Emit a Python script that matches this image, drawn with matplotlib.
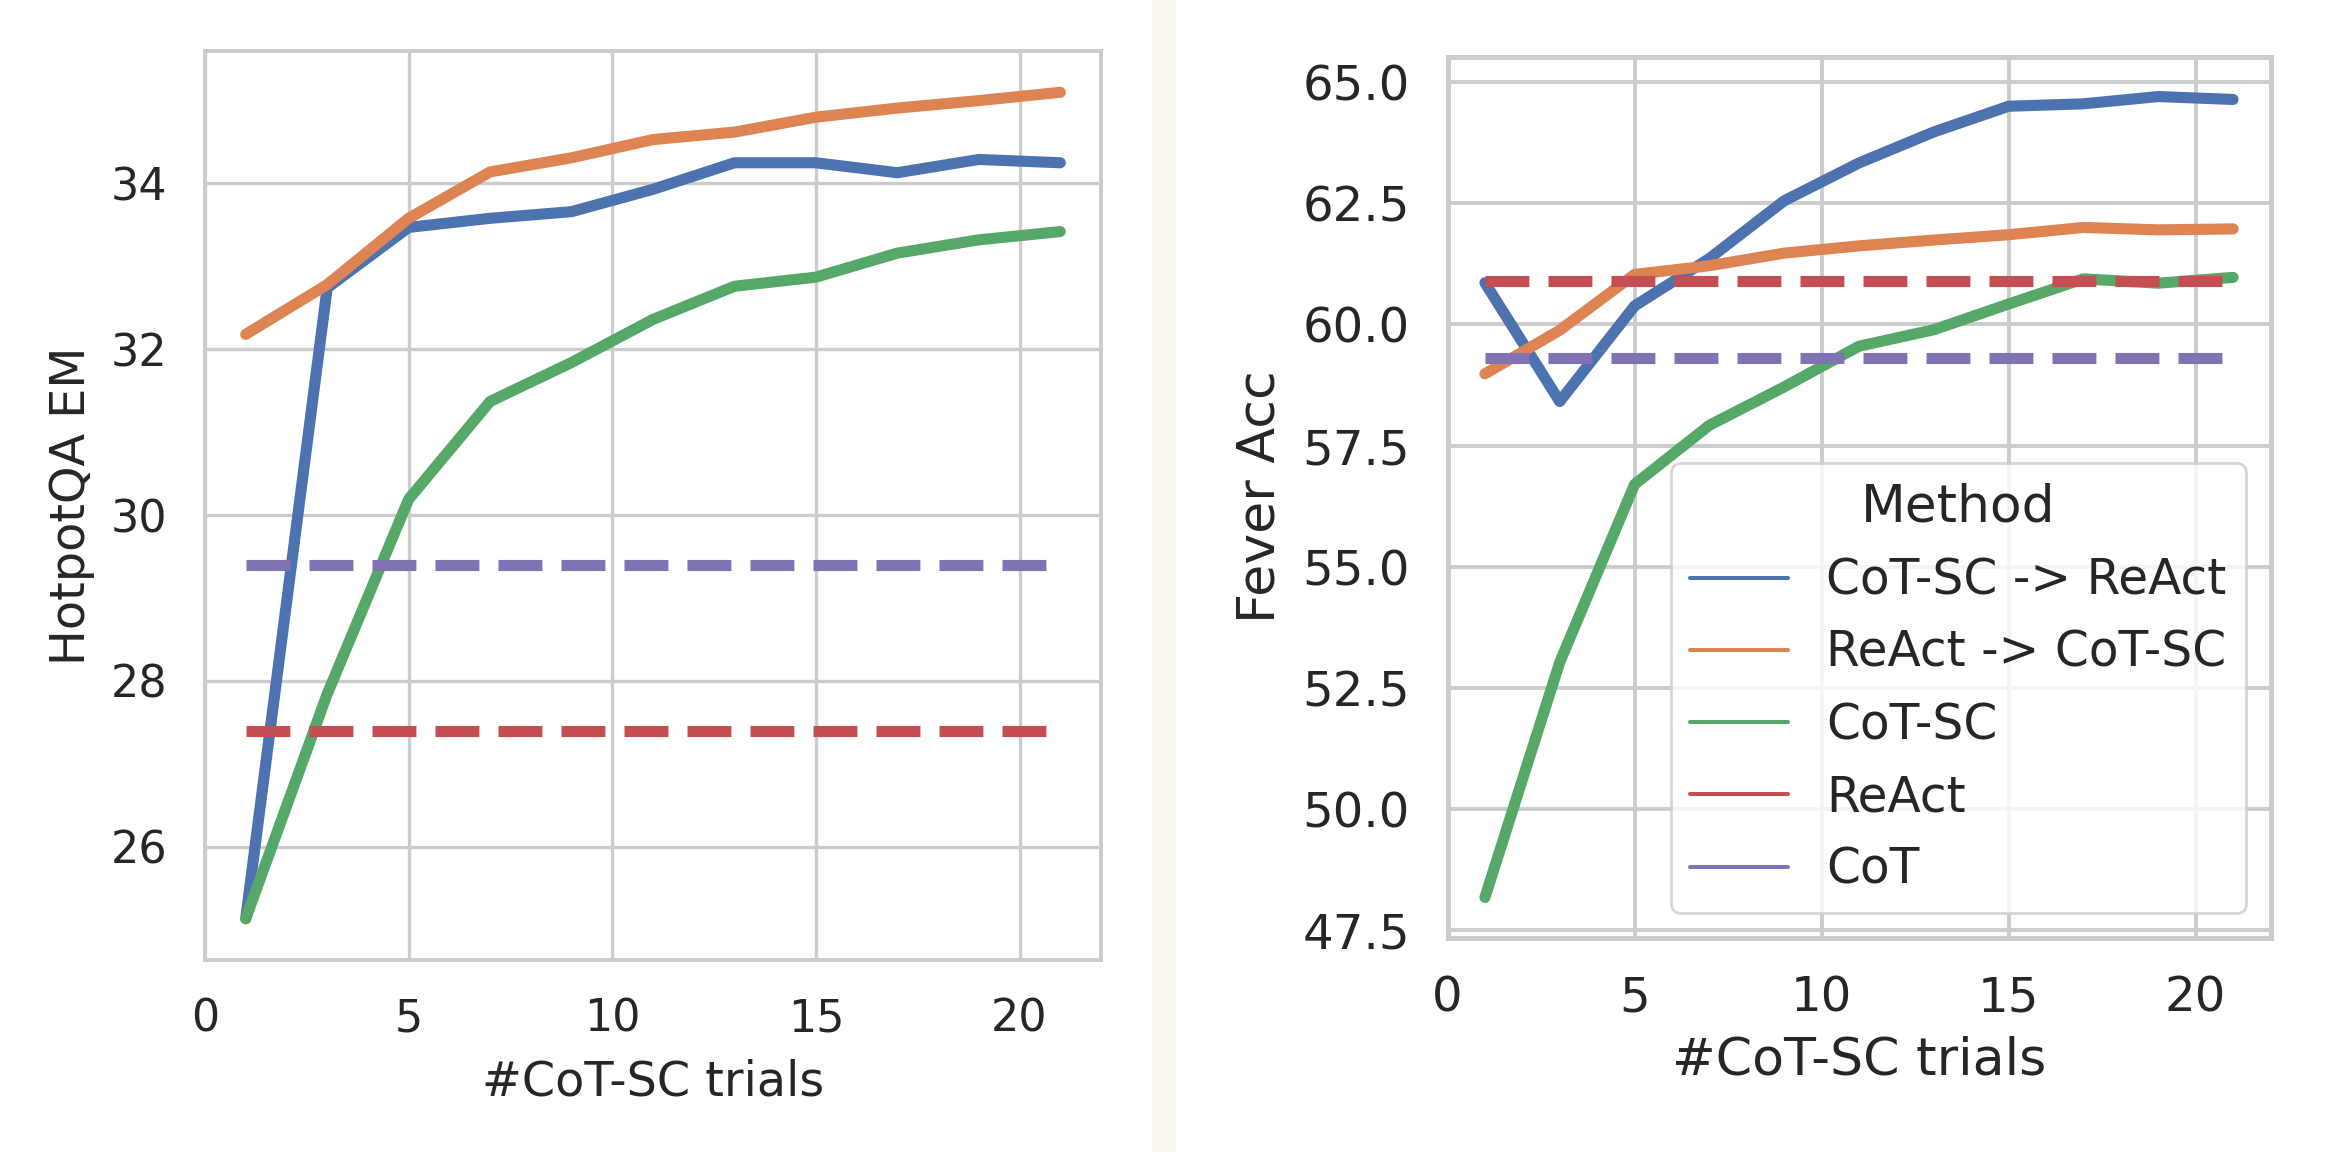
import matplotlib
matplotlib.use("Agg")
import matplotlib.pyplot as plt
from matplotlib.lines import Line2D
from matplotlib.patches import Rectangle
from matplotlib.ticker import MultipleLocator, FormatStrFormatter

# ---------------- data ----------------
trials = [1, 3, 5, 7, 9, 11, 13, 15, 17, 19, 21]

hotpot_cotsc_react = [25.13, 32.74, 33.47, 33.58, 33.66, 33.93, 34.25, 34.25, 34.13, 34.29, 34.25]
hotpot_react_cotsc = [32.18, 32.78, 33.58, 34.14, 34.31, 34.53, 34.62, 34.80, 34.91, 35.00, 35.10]
hotpot_cotsc = [25.13, 27.84, 30.19, 31.37, 31.84, 32.36, 32.76, 32.87, 33.16, 33.32, 33.42]
hotpot_react = 27.4
hotpot_cot = 29.4

fever_cotsc_react = [60.86, 58.41, 60.38, 61.36, 62.55, 63.33, 63.97, 64.50, 64.55, 64.70, 64.64]
fever_react_cotsc = [58.98, 59.88, 61.03, 61.21, 61.47, 61.62, 61.74, 61.85, 62.00, 61.95, 61.97]
fever_cotsc = [48.18, 53.03, 56.70, 57.92, 58.71, 59.55, 59.89, 60.42, 60.94, 60.85, 60.97]
fever_react = 60.9
fever_cot = 59.3

methods = ["CoT-SC -> ReAct", "ReAct -> CoT-SC", "CoT-SC", "ReAct", "CoT"]
colors = ["#4C72B0", "#DD8452", "#55A868", "#C44E52", "#8172B3"]

# ---------------- style ----------------
plt.rcParams["font.family"] = ["DejaVu Sans"]
TXT = "#262626"
GRID = "#cccccc"

W, H = 2328, 1152
DPI = 200
fig = plt.figure(figsize=(W / DPI, H / DPI), dpi=DPI)
fig.patch.set_facecolor("white")

# beige separator strip
fig.add_artist(Rectangle((1152 / W, 0), 24 / W, 1, transform=fig.transFigure,
                         facecolor="#f9f7f0", edgecolor="none", zorder=0))

ax1 = fig.add_axes([205 / W, 1 - 960 / H, 896 / W, 909 / H])
ax2 = fig.add_axes([1447.5 / W, 1 - 937.5 / H, 823 / W, 881 / H])

LW = 4.0
DASH = (3.95, 1.72)


def draw(ax, series, hlines):
    for vals, c in zip(series, colors[:3]):
        ax.plot(trials, vals, color=c, lw=LW, solid_capstyle="round",
                solid_joinstyle="round", zorder=3)
    for v, c in zip(hlines, colors[3:]):
        ax.plot([trials[0], trials[-1]], [v, v], color=c, lw=LW,
                linestyle=(0, DASH), dash_capstyle="butt", zorder=4)


draw(ax1, [hotpot_cotsc_react, hotpot_react_cotsc, hotpot_cotsc], [hotpot_react, hotpot_cot])
draw(ax2, [fever_cotsc_react, fever_react_cotsc, fever_cotsc], [fever_react, fever_cot])


def style(ax, spine_w, grid_w, tick_fs, label_fs, xlab, ylab, xpad, ypad):
    ax.set_facecolor("white")
    for s in ax.spines.values():
        s.set_color(GRID)
        s.set_linewidth(spine_w)
    ax.grid(True, color=GRID, linewidth=grid_w, zorder=0)
    ax.set_axisbelow(True)
    ax.tick_params(axis="both", length=0, pad=13.5, labelsize=tick_fs, labelcolor=TXT)
    ax.set_xlabel(xlab, fontsize=label_fs, color=TXT, labelpad=xpad)
    ax.set_ylabel(ylab, fontsize=label_fs, color=TXT, labelpad=ypad)
    ax.xaxis.set_major_locator(MultipleLocator(5))


style(ax1, 1.44, 1.2, 16.0, 17.2, "#CoT-SC trials", "HotpotQA EM", 6.5, 5.5)
style(ax2, 1.8, 1.4, 17.4, 18.8, "#CoT-SC trials", "Fever Acc", 5.0, 6.0)

ax1.yaxis.set_major_locator(MultipleLocator(2))
ax2.yaxis.set_major_locator(MultipleLocator(2.5))
ax2.yaxis.set_major_formatter(FormatStrFormatter("%.1f"))

ax1.set_xlim(0, 22)
ax2.set_xlim(0, 22)

handles = [Line2D([], [], color=c, lw=1.45, solid_capstyle="round") for c in colors]
leg = ax2.legend(handles, methods, title="Method", loc="lower right",
                 fontsize=17.5, title_fontsize=18.7, frameon=True, fancybox=True,
                 framealpha=0.8, edgecolor=GRID, borderaxespad=0.5)
leg.get_frame().set_linewidth(1.0)
for t in leg.get_texts():
    t.set_color(TXT)
leg.get_title().set_color(TXT)
leg.set_zorder(10)

fig.savefig("out.png", dpi=DPI, facecolor="white")
